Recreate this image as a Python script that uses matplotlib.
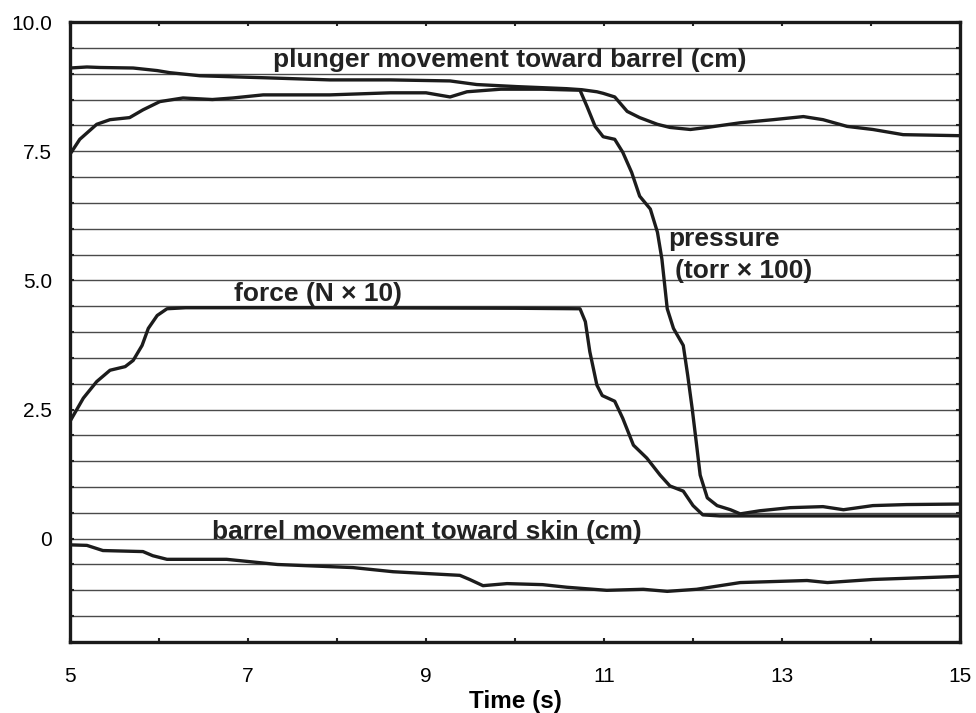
import numpy as np
import matplotlib
matplotlib.use("Agg")
import matplotlib.pyplot as plt
import matplotlib.ticker as ticker

plt.rcParams['font.family'] = ['Liberation Sans', 'DejaVu Sans']

# plunger movement toward barrel (cm)
plunger_t = [5.0, 5.19, 5.34, 5.71, 5.98, 6.12, 6.46, 6.83, 7.21, 7.92, 8.6,
             9.27, 9.57, 10.02, 10.58, 10.75, 10.92, 10.99, 11.12, 11.26,
             11.40, 11.60, 11.74, 11.97, 12.16, 12.53, 12.90, 13.24, 13.46,
             13.73, 14.02, 14.36, 15.0]
plunger_y = [9.11, 9.13, 9.12, 9.11, 9.06, 9.02, 8.96, 8.94, 8.92, 8.88, 8.88,
             8.86, 8.79, 8.75, 8.71, 8.69, 8.65, 8.62, 8.55, 8.27,
             8.15, 8.02, 7.96, 7.92, 7.96, 8.05, 8.11, 8.17, 8.11,
             7.98, 7.92, 7.82, 7.80]

# pressure (torr x 100)
pressure_t = [5.0, 5.11, 5.30, 5.45, 5.67, 5.82, 6.01, 6.27, 6.60, 6.83,
              7.17, 7.92, 8.6, 9.0, 9.27, 9.46, 9.84, 10.3, 10.73, 10.81,
              10.90, 10.99, 11.12, 11.21, 11.31, 11.40, 11.52, 11.60, 11.65,
              11.71, 11.78, 11.89, 11.94, 11.99, 12.04, 12.08, 12.16, 12.27,
              12.42, 12.53, 12.75, 13.09, 13.46, 13.69, 14.02, 14.40, 15.0]
pressure_y = [7.44, 7.73, 8.02, 8.11, 8.15, 8.30, 8.46, 8.53, 8.50, 8.53,
              8.59, 8.59, 8.63, 8.63, 8.55, 8.65, 8.70, 8.70, 8.68, 8.36,
              7.98, 7.78, 7.73, 7.48, 7.09, 6.63, 6.38, 5.93, 5.41,
              4.45, 4.07, 3.74, 3.16, 2.52, 1.81, 1.23, 0.79, 0.64,
              0.56, 0.48, 0.54, 0.60, 0.62, 0.56, 0.64, 0.66, 0.67]

# force (N x 10)
force_t = [5.0, 5.15, 5.30, 5.45, 5.62, 5.71, 5.81, 5.88, 5.98, 6.09, 6.3,
           8.0, 10.0, 10.73, 10.79, 10.84, 10.92, 10.98, 11.12, 11.21, 11.33,
           11.48, 11.63, 11.74, 11.89, 12.0, 12.11, 12.3, 15.0]
force_y = [2.27, 2.72, 3.04, 3.26, 3.33, 3.45, 3.74, 4.07, 4.32, 4.45, 4.47,
           4.47, 4.46, 4.45, 4.20, 3.62, 2.97, 2.77, 2.66, 2.33, 1.81,
           1.56, 1.23, 1.02, 0.92, 0.64, 0.46, 0.44, 0.44]

# barrel movement toward skin (cm)
barrel_t = [5.0, 5.19, 5.37, 5.82, 5.93, 6.09, 6.76, 6.99, 7.33, 8.18, 8.63,
            9.38, 9.49, 9.64, 9.91, 10.31, 10.58, 11.03, 11.44, 11.71, 12.04,
            12.53, 13.28, 13.51, 14.02, 15.0]
barrel_y = [-0.12, -0.13, -0.23, -0.25, -0.33, -0.40, -0.40, -0.44, -0.50,
            -0.56, -0.64, -0.71, -0.79, -0.91, -0.87, -0.89, -0.94, -1.00,
            -0.98, -1.02, -0.98, -0.85, -0.81, -0.85, -0.79, -0.73]

fig = plt.figure(figsize=(9.76, 7.13), dpi=100)
ax = fig.add_axes([0.0717, 0.0996, 0.912, 0.8695])

lc = '#1c1c1c'
for t, y in [(plunger_t, plunger_y), (pressure_t, pressure_y),
             (force_t, force_y), (barrel_t, barrel_y)]:
    ax.plot(t, y, color=lc, lw=2.4, solid_joinstyle='round',
            solid_capstyle='butt', zorder=3)

ax.set_xlim(5, 15)
ax.set_ylim(-2, 10)

ax.xaxis.set_major_locator(ticker.FixedLocator([5, 7, 9, 11, 13, 15]))
ax.xaxis.set_minor_locator(ticker.MultipleLocator(1))
ax.set_yticks([0, 2.5, 5.0, 7.5, 10.0])
ax.set_yticklabels(['0', '2.5', '5.0', '7.5', '10.0'])
ax.yaxis.set_minor_locator(ticker.MultipleLocator(0.5))

ax.tick_params(axis='both', which='both', direction='in', length=3,
               width=1.5, top=True, right=True, color='#222222')
ax.tick_params(axis='x', which='major', labelsize=15, pad=18)
ax.tick_params(axis='y', which='major', labelsize=15, pad=13)

ax.grid(axis='y', which='both', color='#4a4a4a', lw=1.0, zorder=1)
ax.set_axisbelow(True)
for s in ax.spines.values():
    s.set_linewidth(2.4)
    s.set_color('#1a1a1a')

ax.set_xlabel('Time (s)', fontsize=17.5, fontweight='bold', labelpad=3)

tk = dict(fontsize=19, fontweight='bold', color='#222222', zorder=4)
ax.text(9.94, 9.27, 'plunger movement toward barrel (cm)', ha='center',
        va='center', **tk)
ax.text(7.79, 4.74, 'force (N \u00d7 10)', ha='center', va='center', **tk)
ax.text(11.72, 5.8, 'pressure', ha='left', va='center', **tk)
ax.text(11.8, 5.18, '(torr \u00d7 100)', ha='left', va='center', **tk)
ax.text(9.01, 0.12, 'barrel movement toward skin (cm)', ha='center',
        va='center', **tk)

plt.savefig('out.png', dpi=100)
